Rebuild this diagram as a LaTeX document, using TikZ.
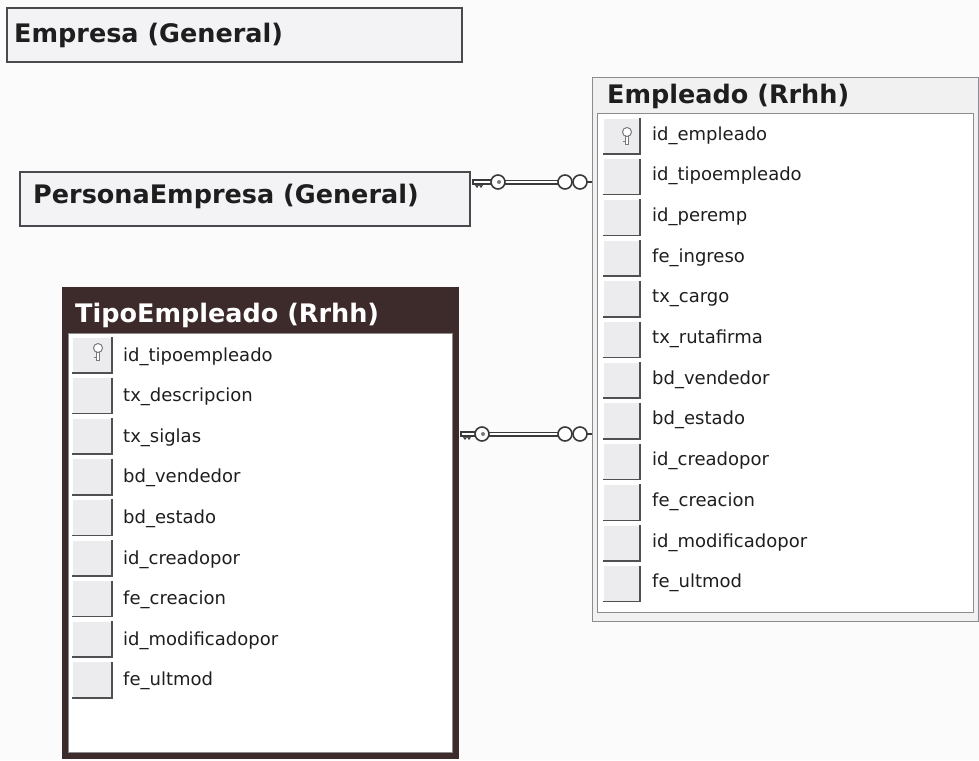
\documentclass[tikz,border=0pt]{standalone}
\usepackage{fontspec}
\setmainfont{DejaVu Sans}
\usetikzlibrary{calc}
\definecolor{bgc}{HTML}{FBFBFC}
\definecolor{boxfill}{HTML}{F3F3F6}
\definecolor{boxline}{HTML}{4A4A4E}
\definecolor{selframe}{HTML}{3D2A2B}
\definecolor{tblline}{HTML}{8C8C90}
\definecolor{hdrfill}{HTML}{F1F1F2}
\definecolor{cellfill}{HTML}{ECECEE}
\definecolor{celldk}{HTML}{505052}
\definecolor{keygray}{HTML}{7A7A7A}
\definecolor{linkdk}{HTML}{3A3A3C}
\definecolor{txt}{HTML}{1E1E1E}
\tikzset{
  entitybox/.style={draw=boxline, line width=1.6pt, fill=boxfill, inner sep=0pt, outer sep=0pt, anchor=north west},
  titletext/.style={font=\bfseries\fontsize{25.5}{28}\selectfont, text=txt, anchor=base west, inner sep=0pt},
  fieldtext/.style={font=\fontsize{18}{20}\selectfont, text=txt, anchor=base west, inner sep=0pt},
  cellbox/.style={fill=cellfill, draw=white, line width=1pt, inner sep=0pt, outer sep=0pt, anchor=north west},
  celledge/.style={draw=celldk, line width=1.5pt},
  panel/.style={fill=white, draw=tblline, line width=0.8pt, inner sep=0pt, outer sep=0pt, anchor=north west},
  keyicon/.style={draw=keygray, line width=1pt, fill=white},
  linkouter/.style={draw=linkdk, line width=5pt},
  linkinner/.style={draw=white, line width=2pt},
  ringstyle/.style={draw=linkdk, line width=1.6pt, fill=white},
}
% vertical key in a cell: #1 = head centre
\newcommand\cellkey[1]{%
  \draw[keyicon] ($(#1)+(-1.5,4)$) rectangle ($(#1)+(1.5,12)$);
  \draw[keygray, line width=1pt] ($(#1)+(-1.5,9)$) -- ++(-2.5,0);
  \draw[keyicon] (#1) circle[radius=4.5pt];
}
% relationship line: #1 start (key end), #2 end (many end), #3 key head offset
\newcommand\erlink[3]{%
  \draw[linkouter] ($(#1)+(#3,0)$) -- ($(#2)+(-32,0)$);
  \draw[linkinner] ($(#1)+(#3,0)$) -- ($(#2)+(-32,0)$);
  \draw[linkdk, line width=1.4pt] ($(#2)+(-5,0)$) -- (#2);
  \draw[draw=linkdk, line width=1.2pt, fill=white] ($(#1)+(3,-2)$) rectangle ($(#1)+(#3-5,2)$);
  \draw[linkdk, line width=1.2pt] ($(#1)+(5,2)$) -- ++(2,3) -- ++(2,-3) -- ++(2,3) -- ++(2,-3);
  \draw[ringstyle] ($(#1)+(#3,0)$) circle[radius=7pt];
  \fill[keygray] ($(#1)+(#3+1,0)$) circle[radius=2pt];
  \draw[ringstyle] ($(#2)+(-27,0)$) circle[radius=7pt];
  \draw[ringstyle] ($(#2)+(-12,0)$) circle[radius=7pt];
}
\begin{document}
\begin{tikzpicture}[x=1pt,y=-1pt]
\useasboundingbox (0,0) rectangle (979,760);
\fill[bgc] (0,0) rectangle (979,760);

% Empresa
\node[entitybox, minimum width=455pt, minimum height=54pt] (emp) at (7,8) {};
\node[titletext] (empT) at (14,42) {Empresa (General)};

% PersonaEmpresa
\node[entitybox, minimum width=450pt, minimum height=54pt] (pe) at (20,172) {};
\node[titletext] (peT) at (33,203) {PersonaEmpresa (General)};

% Empleado table
\node[draw=tblline, line width=1pt, fill=hdrfill, inner sep=0pt, outer sep=0pt, anchor=north west,
      minimum width=386pt, minimum height=544pt] (empl) at (592,77) {};
\node[panel, minimum width=376pt, minimum height=499pt] (emplP) at (597,113) {};
\node[titletext] (emplT) at (607,103) {Empleado (Rrhh)};
\foreach \f [count=\i from 0] in {id\_empleado, id\_tipoempleado, id\_peremp, fe\_ingreso, tx\_cargo, tx\_rutafirma, bd\_vendedor, bd\_estado, id\_creadopor, fe\_creacion, id\_modificadopor, fe\_ultmod} {
  \pgfmathsetmacro\ty{118+40.7*\i}
  \pgfmathsetmacro\by{140+40.7*\i}
  \node[cellbox, minimum width=37pt, minimum height=36pt] (ec\i) at (603,\ty) {};
  \draw[celledge] (ec\i.north east) -- (ec\i.south east) -- (ec\i.south west);
  \node[fieldtext] (ef\i) at (652,\by) {\f};
}
\coordinate (ek) at ($(ec0.north east)+(-13,14)$);
\cellkey{ek}

% TipoEmpleado table (selected)
\node[draw=selframe, line width=1pt, fill=selframe, inner sep=0pt, outer sep=0pt, anchor=north west,
      minimum width=396pt, minimum height=471pt] (tipo) at (62,287) {};
\node[panel, minimum width=384pt, minimum height=419pt] (tipoP) at (68,333) {};
\node[titletext, text=white] (tipoT) at (75,322) {TipoEmpleado (Rrhh)};
\foreach \f [count=\i from 0] in {id\_tipoempleado, tx\_descripcion, tx\_siglas, bd\_vendedor, bd\_estado, id\_creadopor, fe\_creacion, id\_modificadopor, fe\_ultmod} {
  \pgfmathsetmacro\ty{337+40.6*\i}
  \pgfmathsetmacro\by{361+40.6*\i}
  \node[cellbox, minimum width=40pt, minimum height=36pt] (tc\i) at (72,\ty) {};
  \draw[celledge] (tc\i.north east) -- (tc\i.south east) -- (tc\i.south west);
  \node[fieldtext] (tf\i) at (123,\by) {\f};
}
\coordinate (tk) at ($(tc0.north east)+(-14,11)$);
\cellkey{tk}

% relationships
\coordinate (l1s) at ($(pe.north east)+(0,10)$);
\coordinate (l1e) at (empl.west |- l1s);
\erlink{l1s}{l1e}{28}
\coordinate (l2s) at ($(tipo.north east)+(0,147)$);
\coordinate (l2e) at (empl.west |- l2s);
\erlink{l2s}{l2e}{24}
\end{tikzpicture}
\end{document}
